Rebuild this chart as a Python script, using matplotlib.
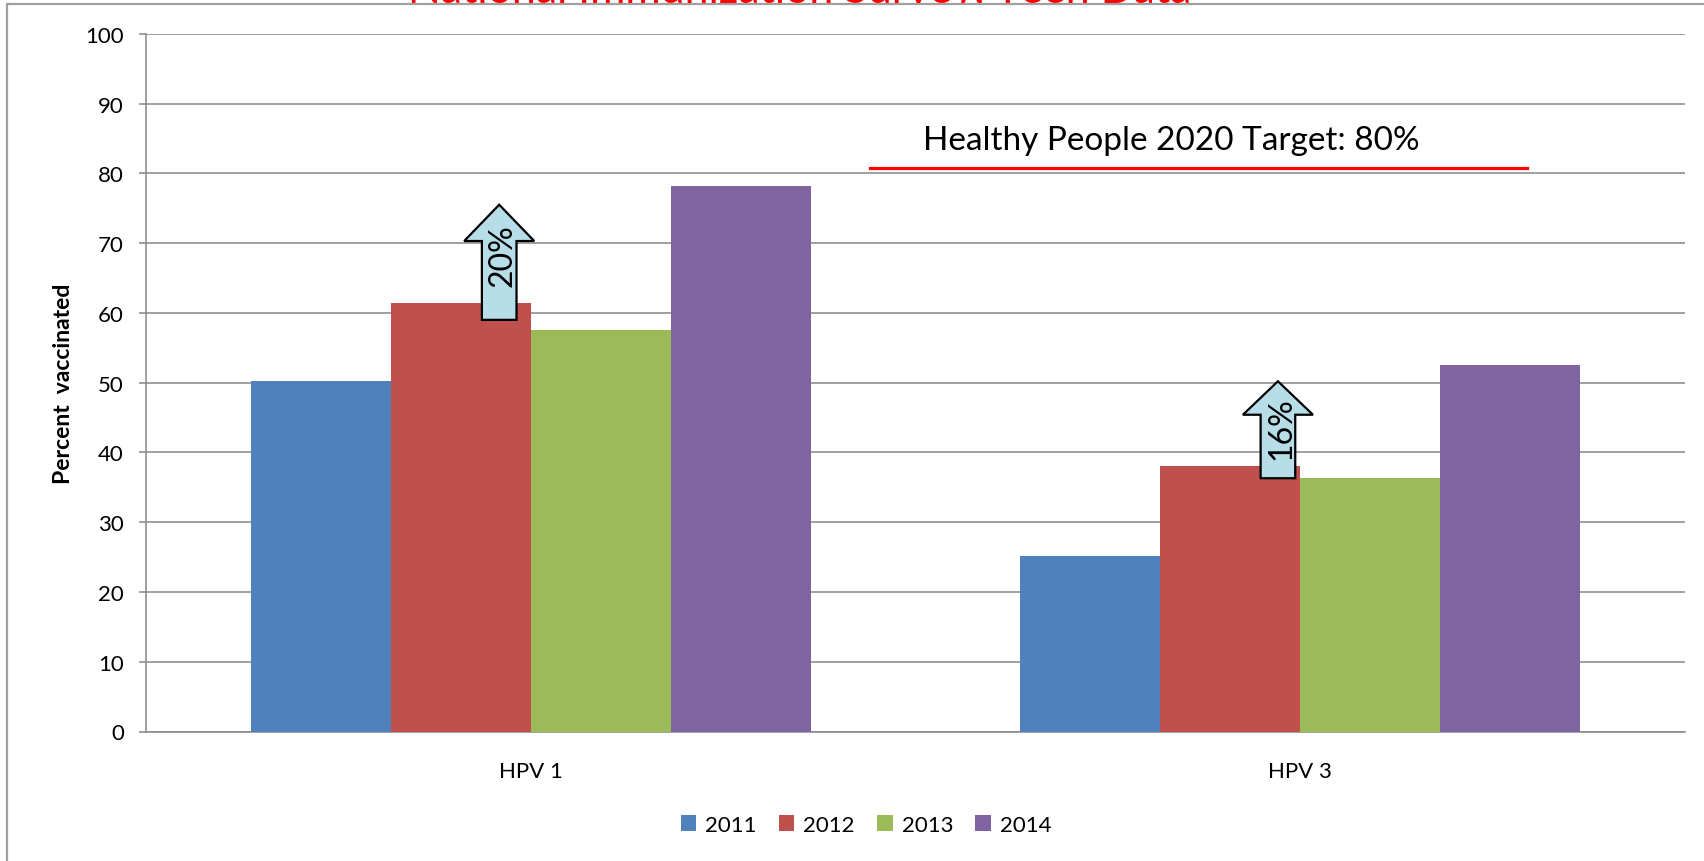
import matplotlib
matplotlib.use("Agg")
import matplotlib.pyplot as plt
import matplotlib.patches as patches
import numpy as np

plt.rcParams['font.family'] = ['Lato', 'DejaVu Sans']

# --- datos ---
categories = ['HPV 1', 'HPV 3']
years = ['2011', '2012', '2013', '2014']
values_2011 = [50.3, 25.1]
values_2012 = [61.4, 38.0]
values_2013 = [57.6, 36.4]
values_2014 = [78.2, 52.6]
colors = ['#4F81BD', '#C0504D', '#9BBB59', '#8064A2']

target_value = 80.8
target_label = 'Healthy People 2020 Target: 80%'

# flechas de aumento 2011 -> 2012
arrow_labels = ['20%', '16%']
arrow_x = [-0.041, 0.971]
arrow_tip = [75.5, 50.2]
arrow_neck = [70.3, 45.4]
arrow_base = [59.0, 36.3]

title = 'National Immunization Survey, Teen Data'

W, H = 1704, 862
fig = plt.figure(figsize=(W / 100, H / 100), dpi=100)

# titulo cortado detras del marco
fig.text(800 / W, 1 - 3 / H, title, color='#FF0000', fontsize=31,
         ha='center', va='baseline', zorder=-3)
frame = patches.Rectangle((7 / W, -0.1), 1.2, 1.1 - 5 / H, transform=fig.transFigure,
                          fc='white', ec='#A0A0A0', lw=1.6, zorder=-2)
fig.patches.append(frame)

ax = fig.add_axes([146 / W, 129.5 / H, (1685 - 146) / W, (732.5 - 34.8) / H])
ax.patch.set_alpha(0)

series = [values_2011, values_2012, values_2013, values_2014]
x = np.arange(len(categories))
bw = 1 / 5.5
for i, (vals, yr, c) in enumerate(zip(series, years, colors)):
    ax.bar(x + (i - 1.5) * bw, vals, bw, color=c, label=yr, zorder=3)

ax.set_xlim(-0.5, 1.5)
ax.set_ylim(0, 100)
ax.set_yticks(range(0, 101, 10))
ax.set_xticks(x)
ax.set_xticklabels(categories)
ax.yaxis.grid(True, color='#868686', lw=1.1, zorder=0)
ax.set_axisbelow(True)
for s in ['top', 'right']:
    ax.spines[s].set_visible(False)
for s in ['left', 'bottom']:
    ax.spines[s].set_color('#868686')
    ax.spines[s].set_linewidth(1.1)
ax.tick_params(axis='y', length=5, width=1.1, color='#868686', pad=11, labelsize=16)
ax.tick_params(axis='x', length=0, pad=21, labelsize=16)
ax.set_ylabel('Percent  vaccinated', fontsize=16.5, fontweight='bold', labelpad=8)

# linea objetivo
ax.plot([0.441, 1.295], [target_value, target_value], color='#FF0000', lw=2.3, zorder=4)
ax.text(0.833, 83.5, target_label, fontsize=24, ha='center', va='baseline', zorder=4)

# flechas
for lab, xc, tip, neck, base in zip(arrow_labels, arrow_x, arrow_tip, arrow_neck, arrow_base):
    hw, sw = 0.0455, 0.0225
    verts = [(xc - sw, base), (xc + sw, base), (xc + sw, neck), (xc + hw, neck),
             (xc, tip), (xc - hw, neck), (xc - sw, neck)]
    ax.add_patch(patches.Polygon(verts, closed=True, fc='#B7DEE8', ec='black', lw=1.6, zorder=5))
    ax.text(xc + 0.004, neck - 1.9, lab, rotation=90, fontsize=23,
            ha='center', va='center', zorder=6)

leg = ax.legend(loc='center', bbox_to_anchor=(866 / W, 36 / H), bbox_transform=fig.transFigure,
                ncol=4, frameon=False, fontsize=16, handlelength=0.7, handleheight=0.75,
                handletextpad=0.4, columnspacing=1.0)

fig.savefig('out.png', dpi=100)
